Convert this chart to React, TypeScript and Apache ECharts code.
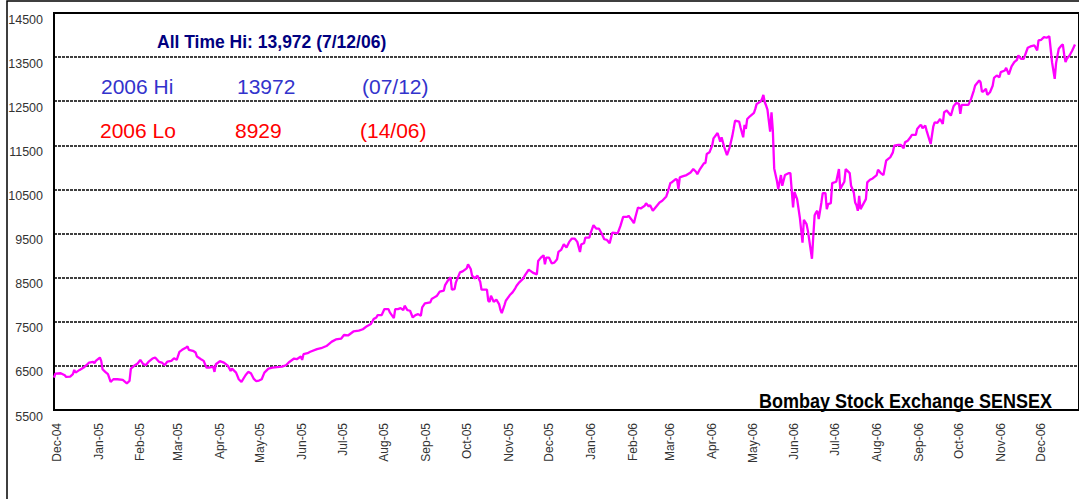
import React, { useEffect, useRef } from "react";
import * as echarts from "echarts";

const tradeDates: string[] = [
  "2004-11-29","2004-11-30","2004-12-04","2004-12-07","2004-12-08","2004-12-11","2004-12-13","2004-12-14","2004-12-15","2004-12-18",
  "2004-12-21","2004-12-23","2004-12-25","2004-12-28","2004-12-29","2004-12-30","2005-01-02","2005-01-03","2005-01-04","2005-01-06",
  "2005-01-08","2005-01-10","2005-01-12","2005-01-15","2005-01-19","2005-01-22","2005-01-24","2005-01-25","2005-01-28","2005-01-30",
  "2005-02-01","2005-02-03","2005-02-05","2005-02-07","2005-02-10","2005-02-12","2005-02-15","2005-02-17","2005-02-19","2005-02-21",
  "2005-02-24","2005-02-26","2005-02-28","2005-03-02","2005-03-04","2005-03-07","2005-03-08","2005-03-09","2005-03-12","2005-03-14",
  "2005-03-15","2005-03-18","2005-03-20","2005-03-22","2005-03-24","2005-03-27","2005-03-28","2005-03-29","2005-04-01","2005-04-04",
  "2005-04-07","2005-04-09","2005-04-10","2005-04-13","2005-04-15","2005-04-17","2005-04-20","2005-04-22","2005-04-24","2005-04-26",
  "2005-04-28","2005-04-30","2005-05-02","2005-05-04","2005-05-07","2005-05-10","2005-05-15","2005-05-17","2005-05-20","2005-05-22",
  "2005-05-26","2005-05-28","2005-05-31","2005-06-01","2005-06-02","2005-06-05","2005-06-07","2005-06-12","2005-06-15","2005-06-19",
  "2005-06-23","2005-06-26","2005-06-30","2005-07-02","2005-07-05","2005-07-09","2005-07-13","2005-07-16","2005-07-19","2005-07-22",
  "2005-07-24","2005-07-26","2005-07-27","2005-07-30","2005-08-01","2005-08-04","2005-08-05","2005-08-08","2005-08-09","2005-08-11",
  "2005-08-13","2005-08-15","2005-08-16","2005-08-18","2005-08-20","2005-08-22","2005-08-24","2005-08-26","2005-08-28","2005-08-29",
  "2005-08-31","2005-09-04","2005-09-05","2005-09-07","2005-09-09","2005-09-11","2005-09-14","2005-09-15","2005-09-17","2005-09-19",
  "2005-09-20","2005-09-22","2005-09-23","2005-09-26","2005-09-28","2005-10-01","2005-10-02","2005-10-04","2005-10-05","2005-10-07",
  "2005-10-09","2005-10-11","2005-10-12","2005-10-16","2005-10-17","2005-10-18","2005-10-19","2005-10-21","2005-10-23","2005-10-25",
  "2005-10-26","2005-10-27","2005-10-29","2005-10-30","2005-11-02","2005-11-04","2005-11-06","2005-11-07","2005-11-09","2005-11-12",
  "2005-11-13","2005-11-16","2005-11-17","2005-11-19","2005-11-22","2005-11-23","2005-11-25","2005-11-27","2005-11-28","2005-11-29",
  "2005-12-01","2005-12-03","2005-12-05","2005-12-07","2005-12-08","2005-12-10","2005-12-12","2005-12-14","2005-12-16","2005-12-18",
  "2005-12-20","2005-12-22","2005-12-24","2005-12-25","2005-12-27","2005-12-28","2005-12-31","2006-01-01","2006-01-03","2006-01-05",
  "2006-01-07","2006-01-09","2006-01-11","2006-01-13","2006-01-15","2006-01-17","2006-01-20","2006-01-21","2006-01-23","2006-01-25",
  "2006-01-28","2006-01-29","2006-01-31","2006-02-02","2006-02-03","2006-02-05","2006-02-07","2006-02-10","2006-02-11","2006-02-13",
  "2006-02-14","2006-02-16","2006-02-18","2006-02-21","2006-02-23","2006-02-26","2006-02-27","2006-03-01","2006-03-02","2006-03-05",
  "2006-03-06","2006-03-07","2006-03-08","2006-03-10","2006-03-13","2006-03-16","2006-03-18","2006-03-20","2006-03-21","2006-03-23",
  "2006-03-26","2006-03-27","2006-03-28","2006-03-30","2006-04-01","2006-04-02","2006-04-05","2006-04-07","2006-04-08","2006-04-10",
  "2006-04-12","2006-04-14","2006-04-16","2006-04-17","2006-04-18","2006-04-21","2006-04-22","2006-04-24","2006-04-25","2006-04-26",
  "2006-04-27","2006-04-29","2006-05-02","2006-05-03","2006-05-04","2006-05-07","2006-05-08","2006-05-09","2006-05-10","2006-05-11",
  "2006-05-12","2006-05-14","2006-05-15","2006-05-16","2006-05-17","2006-05-19","2006-05-20","2006-05-22","2006-05-23","2006-05-25",
  "2006-05-28","2006-05-29","2006-05-31","2006-06-01","2006-06-03","2006-06-05","2006-06-07","2006-06-08","2006-06-10","2006-06-11",
  "2006-06-14","2006-06-15","2006-06-16","2006-06-17","2006-06-18","2006-06-19","2006-06-21","2006-06-22","2006-06-24","2006-06-25",
  "2006-06-26","2006-06-28","2006-06-29","2006-07-02","2006-07-04","2006-07-05","2006-07-06","2006-07-08","2006-07-09","2006-07-12",
  "2006-07-13","2006-07-15","2006-07-16","2006-07-17","2006-07-18","2006-07-19","2006-07-20","2006-07-22","2006-07-24","2006-07-25",
  "2006-07-27","2006-07-29","2006-08-01","2006-08-02","2006-08-04","2006-08-06","2006-08-08","2006-08-10","2006-08-11","2006-08-13",
  "2006-08-14","2006-08-17","2006-08-19","2006-08-21","2006-08-22","2006-08-24","2006-08-26","2006-08-27","2006-08-30","2006-08-31",
  "2006-09-02","2006-09-03","2006-09-04","2006-09-06","2006-09-07","2006-09-10","2006-09-12","2006-09-13","2006-09-15","2006-09-17",
  "2006-09-19","2006-09-20","2006-09-22","2006-09-24","2006-09-25","2006-09-27","2006-09-29","2006-10-01","2006-10-02","2006-10-03",
  "2006-10-05","2006-10-08","2006-10-10","2006-10-12","2006-10-13","2006-10-16","2006-10-17","2006-10-18","2006-10-19","2006-10-21",
  "2006-10-22","2006-10-24","2006-10-26","2006-10-27","2006-10-29","2006-10-31","2006-11-01","2006-11-04","2006-11-05","2006-11-07",
  "2006-11-09","2006-11-11","2006-11-13","2006-11-14","2006-11-16","2006-11-18","2006-11-21","2006-11-23","2006-11-26","2006-11-28",
  "2006-11-29","2006-12-01","2006-12-03","2006-12-05","2006-12-07","2006-12-08","2006-12-09","2006-12-11","2006-12-12","2006-12-14",
  "2006-12-16","2006-12-17","2006-12-18","2006-12-19","2006-12-20","2006-12-22","2006-12-24","2006-12-26"
];

const sensexValues: number[] = [
  6235,6326,6333,6288,6250,6258,6311,6409,6348,6409,
  6462,6515,6576,6590,6560,6614,6689,6614,6424,6364,
  6311,6136,6197,6197,6182,6106,6159,6439,6515,6553,
  6636,6545,6515,6590,6667,6689,6590,6576,6515,6598,
  6614,6674,6636,6818,6864,6917,6939,6864,6841,6803,
  6712,6652,6614,6462,6462,6485,6364,6538,6606,6576,
  6500,6386,6439,6348,6197,6136,6288,6364,6333,6212,
  6152,6167,6197,6348,6439,6462,6477,6485,6515,6576,
  6667,6652,6712,6636,6765,6788,6820,6880,6900,6950,
  7050,7100,7120,7200,7190,7280,7300,7330,7400,7450,
  7561,7598,7652,7652,7788,7788,7712,7583,7788,7788,
  7811,7765,7864,7765,7750,7598,7652,7674,7636,7826,
  7917,7939,8015,8053,8091,8182,8205,8333,8432,8508,
  8227,8242,8394,8621,8644,8712,8803,8697,8545,8485,
  8545,8409,8227,8227,7977,7955,8091,7955,8000,7902,
  7773,7697,7879,7977,8106,8167,8258,8318,8394,8485,
  8545,8682,8659,8614,8576,8879,8955,9008,8803,8955,
  8955,8826,8841,8917,9083,9129,9258,9182,9311,9386,
  9386,9311,9083,9258,9280,9409,9409,9523,9689,9614,
  9614,9508,9371,9356,9280,9523,9508,9508,9674,9879,
  9879,9902,9826,9735,9864,10091,10068,10129,10189,10114,
  10144,10015,10091,10205,10242,10341,10432,10644,10659,10735,
  10720,10508,10773,10795,10826,10886,10962,10902,10848,10962,
  11098,11098,11303,11341,11492,11659,11780,11583,11682,11455,
  11280,11455,11720,11886,12061,12038,11909,11682,11962,11871,
  12098,12159,12235,12326,12439,12492,12553,12644,12477,12402,
  12311,11811,12250,11833,10977,10697,10508,10826,10583,10826,
  10871,10871,10091,10447,10280,9864,9295,9811,9712,9561,
  8929,9447,9917,9977,10015,9826,10205,10417,10417,10053,
  10167,10189,10644,10674,10962,10508,10568,10674,10962,10871,
  10583,10432,10205,10144,10015,10356,10053,10167,10280,10659,
  10720,10750,10826,10947,10871,10826,11152,11205,11227,11341,
  11492,11508,11508,11432,11568,11606,11682,11735,11735,11871,
  11947,11962,11886,11947,11833,11530,11932,12023,12008,12098,
  11985,12250,12288,12212,12174,12386,12462,12439,12212,12417,
  12417,12417,12553,12742,12856,12970,12932,12720,12720,12780,
  12644,12704,12850,13030,13083,13045,13159,13197,13257,13106,
  13288,13386,13439,13538,13462,13462,13712,13742,13765,13651,
  13878,13893,13954,13939,13972,13689,13386,13007,13363,13689,
  13765,13788,13560,13386,13462,13538,13651,13788
];

const monthStarts: string[] = [
  "2004-12-01","2005-01-01","2005-02-01","2005-03-01","2005-04-01","2005-05-01","2005-06-01",
  "2005-07-01","2005-08-01","2005-09-01","2005-10-01","2005-11-01","2005-12-01","2006-01-01",
  "2006-02-01","2006-03-01","2006-04-01","2006-05-01","2006-06-01","2006-07-01","2006-08-01",
  "2006-09-01","2006-10-01","2006-11-01","2006-12-01"
];
const monthNames: string[] = ["Jan","Feb","Mar","Apr","May","Jun","Jul","Aug","Sep","Oct","Nov","Dec"];

const axisStart = "2004-11-29";
const axisEnd = "2006-12-29";
const yMin = 5500;
const yMax = 14500;
const yStep = 1000;

const titleText = "Bombay Stock Exchange SENSEX";
const allTimeHiText = "All Time Hi: 13,972 (7/12/06)";
const hiRow: string[] = ["2006 Hi", "13972", "(07/12)"];
const loRow: string[] = ["2006 Lo", "8929", "(14/06)"];

function utc(s: string): number {
  const [y, m, d] = s.split("-").map(Number);
  return Date.UTC(y, m - 1, d);
}

const ARIAL = "'Liberation Sans', Arial, sans-serif";

export default function App() {
  const ref = useRef<HTMLDivElement>(null);
  useEffect(() => {
    if (!ref.current) return;
    const chart = echarts.init(ref.current, undefined, { renderer: "svg" });
    const seriesData = tradeDates.map((d, i) => [utc(d), sensexValues[i]]);
    const txt = (text: string, x: number, y: number, size: number, fill: string, bold = false, scaleX = 1) => ({
      type: "text",
      x,
      y,
      scaleX,
      z: 100,
      style: {
        text,
        fontSize: size,
        fontFamily: ARIAL,
        fontWeight: bold ? "bold" : "normal",
        fill,
        verticalAlign: "middle",
        align: "left",
      },
    });
    chart.setOption({
      animation: false,
      backgroundColor: "#fff",
      grid: {
        left: 54,
        top: 13,
        right: -4,
        bottom: 89,
        show: true,
        borderColor: "#000",
        borderWidth: 2,
        containLabel: false,
      },
      xAxis: {
        type: "value",
        min: utc(axisStart),
        max: utc(axisEnd),
        axisLine: { show: true, onZero: false, lineStyle: { color: "#000", width: 2 } },
        axisTick: { show: false },
        splitLine: { show: false },
        axisLabel: {
          customValues: monthStarts.map(utc),
          rotate: 90,
          margin: 13,
          hideOverlap: false,
          fontFamily: ARIAL,
          fontSize: 12,
          color: "#333",
          formatter: (v: number) => {
            const dt = new Date(v);
            return monthNames[dt.getUTCMonth()] + "-" + String(dt.getUTCFullYear()).slice(2);
          },
        },
      },
      yAxis: {
        type: "value",
        min: yMin,
        max: yMax,
        interval: yStep,
        axisLine: { show: true, lineStyle: { color: "#000", width: 2 } },
        axisTick: { show: false },
        splitLine: { show: true, lineStyle: { color: "#000", width: 1.5, type: [3, 1] } },
        axisLabel: {
          margin: 11,
          fontFamily: ARIAL,
          fontSize: 12.5,
          color: "#333",
          verticalAlign: "top",
          formatter: (v: number) => String(v),
        },
      },
      series: [
        {
          type: "line",
          data: seriesData,
          showSymbol: false,
          symbol: "none",
          clip: true,
          lineStyle: { color: "#FF00FF", width: 2.3 },
          z: 5,
        },
      ],
      graphic: [
        {
          type: "rect",
          silent: true,
          shape: { x: 7, y: 1, width: 1200, height: 600 },
          style: { fill: "none", stroke: "#000", lineWidth: 1.5 },
          z: 100,
        },
        txt(allTimeHiText, 157, 42, 17.5, "#000080", true),
        txt(hiRow[0], 101, 86, 21, "#3333CC"),
        txt(hiRow[1], 237, 86, 21, "#3333CC"),
        txt(hiRow[2], 362, 86, 21, "#3333CC"),
        txt(loRow[0], 100, 130, 21, "#FF0000"),
        txt(loRow[1], 235, 130, 21, "#FF0000"),
        txt(loRow[2], 360, 130, 21, "#FF0000"),
        txt(titleText, 759, 401, 20, "#000", true, 0.9),
      ],
    });
    return () => chart.dispose();
  }, []);
  return (
    <div
      ref={ref}
      style={{ position: "fixed", left: 0, top: 0, width: 1079, height: 499, background: "#fff" }}
    />
  );
}
